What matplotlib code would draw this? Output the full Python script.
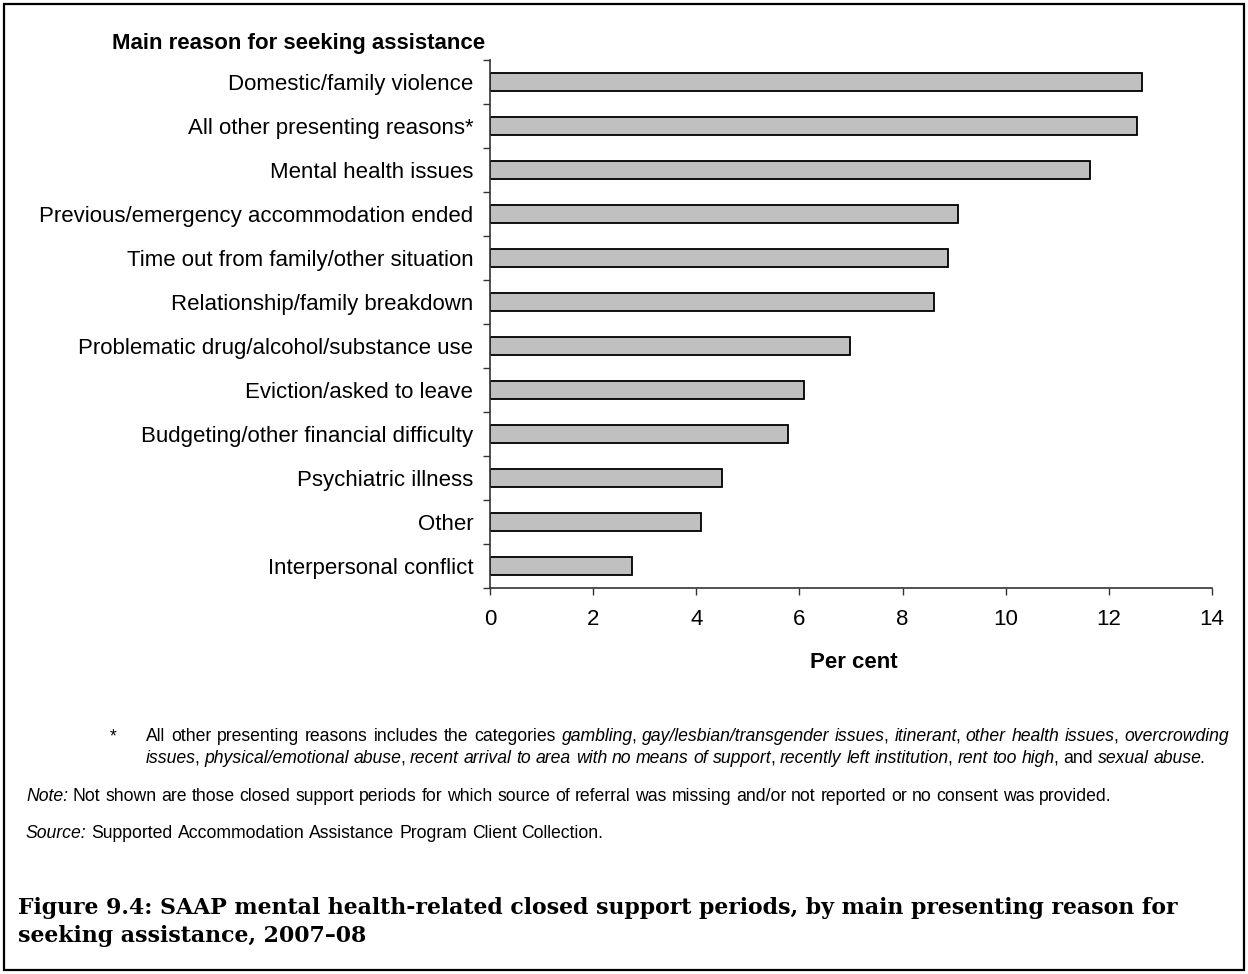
import matplotlib
matplotlib.use("Agg")
import matplotlib.pyplot as plt
from matplotlib.patches import Rectangle

W, H = 1248, 974

categories = [
    "Domestic/family violence",
    "All other presenting reasons*",
    "Mental health issues",
    "Previous/emergency accommodation ended",
    "Time out from family/other situation",
    "Relationship/family breakdown",
    "Problematic drug/alcohol/substance use",
    "Eviction/asked to leave",
    "Budgeting/other financial difficulty",
    "Psychiatric illness",
    "Other",
    "Interpersonal conflict",
]
per_cent = [12.64, 12.55, 11.63, 9.08, 8.88, 8.60, 6.98, 6.09, 5.78, 4.50, 4.10, 2.75]
x_ticks = [0, 2, 4, 6, 8, 10, 12, 14]

footnote_1 = [
    ("All other presenting reasons includes the categories ", "normal"),
    ("gambling", "italic"), (", ", "normal"),
    ("gay/lesbian/transgender issues", "italic"), (", ", "normal"),
    ("itinerant", "italic"), (", ", "normal"),
    ("other health issues", "italic"), (", ", "normal"),
    ("overcrowding", "italic"),
]
footnote_2 = [
    ("issues", "italic"), (", ", "normal"),
    ("physical/emotional abuse", "italic"), (", ", "normal"),
    ("recent arrival to area with no means of support", "italic"), (", ", "normal"),
    ("recently left institution", "italic"), (", ", "normal"),
    ("rent too high", "italic"), (", and ", "normal"),
    ("sexual abuse", "italic"), (".", "normal"),
]
note_line = [("Note:", "italic"),
             (" Not shown are those closed support periods for which source of referral "
              "was missing and/or not reported or no consent was provided.", "normal")]
source_line = [("Source:", "italic"),
               (" Supported Accommodation Assistance Program Client Collection.", "normal")]
title_lines = [
    "Figure 9.4: SAAP mental health-related closed support periods, by main presenting reason for",
    "seeking assistance, 2007\u201308",
]

SANS = "Liberation Sans"
SERIF = "DejaVu Serif"
plt.rcParams["font.family"] = SANS


def fx(px):
    return px / W


def fy(py):
    return 1 - py / H


fig = plt.figure(figsize=(W / 100, H / 100), dpi=100)
fig.patches.append(Rectangle((4 / W, 4 / H), 1 - 8 / W, 1 - 8 / H, transform=fig.transFigure,
                             fill=False, edgecolor="black", linewidth=1.6))
renderer = fig.canvas.get_renderer()

ax = fig.add_axes([fx(490), fy(588), fx(1212) - fx(490), fy(60) - fy(588)])
ypos = list(range(len(categories)))
ax.barh(ypos, per_cent, height=0.4, color="#c0c0c0", edgecolor="black", linewidth=1.3)
ax.set_xlim(0, 14)
ax.set_ylim(len(categories) - 0.5, -0.5)
ax.set_xticks(x_ticks)
ax.set_yticks(ypos)
ax.set_yticklabels(categories)
ax.set_yticks([i - 0.5 for i in range(len(categories) + 1)], minor=True)
ax.tick_params(axis="y", which="major", length=0, pad=12, labelsize=16)
ax.tick_params(axis="y", which="minor", length=5, width=1, color="#333333")
ax.tick_params(axis="x", length=5, width=1, pad=10, labelsize=16, color="#333333")
for side in ("top", "right"):
    ax.spines[side].set_visible(False)
for side in ("left", "bottom"):
    ax.spines[side].set_color("#333333")
    ax.spines[side].set_linewidth(1.2)

fig.text(fx(485), fy(44), "Main reason for seeking assistance", ha="right", va="center",
         fontsize=16, fontweight="bold")
fig.text(fx(854), fy(662), "Per cent", ha="center", va="center", fontsize=16, fontweight="bold")


def ink_width(s, size, style="normal", weight="normal", family=SANS):
    t = fig.text(0, 0, s, fontsize=size, style=style, fontweight=weight, family=family)
    w = t.get_window_extent(renderer).width
    t.remove()
    return w


def rich_line(x_px, y_px, parts, size, draw=True, justify_to=None):
    """Lay runs of normal/italic text word by word; returns the end x.

    With justify_to the gaps are widened so the line ends at that x.
    """
    sp = ink_width("a a", size) - ink_width("aa", size)
    if justify_to is not None:
        natural = rich_line(x_px, y_px, parts, size, draw=False) - x_px
        n_gaps = sum(t.count(" ") for t, _ in parts)
        sp += (justify_to - x_px - natural) / n_gaps
    x = x_px
    prev_italic = False
    for txt, style in parts:
        core = txt.strip(" ")
        x += (len(txt) - len(txt.lstrip(" "))) * sp
        if core:
            if prev_italic and style == "normal" and not txt.startswith(" "):
                x -= 0.12 * size  # tuck upright punctuation under the italic slant
            words = core.split(" ")
            for j, word in enumerate(words):
                if draw:
                    fig.text(fx(x), fy(y_px), word, fontsize=size, style=style, va="baseline")
                x += ink_width(word, size, style)
                if j < len(words) - 1:
                    x += sp
        x += (len(txt) - len(txt.rstrip(" "))) * sp
        prev_italic = style == "italic"
    return x


# size the notes so that the first footnote line fits x = 146 .. 1229
note_size = 12.0 * 1075 / (rich_line(146, 0, footnote_1, 12.0, draw=False) - 146)

fig.text(fx(110), fy(741), "*", fontsize=note_size, va="baseline")
rich_line(146, 741, footnote_1, note_size, justify_to=1229)
rich_line(146, 763, footnote_2, note_size)
rich_line(26, 801, note_line, note_size)
rich_line(26, 838, source_line, note_size)

title_size = 14.0 * 1165 / ink_width(title_lines[0], 14.0, weight="bold", family=SERIF)
for i, line in enumerate(title_lines):
    fig.text(fx(18), fy(914 + 28 * i), line, fontsize=title_size, fontweight="bold",
             family=SERIF, va="baseline")

fig.savefig("out.png", dpi=100)
